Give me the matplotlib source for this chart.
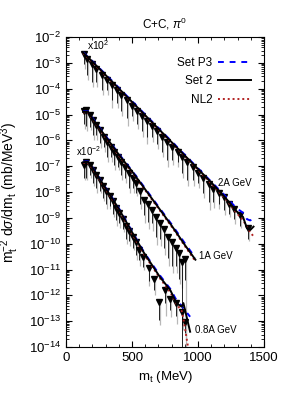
" C+C -> pi0 transverse mass spectra at 0.8, 1 and 2A GeV "
import numpy as np
import matplotlib
matplotlib.use("Agg")
import matplotlib.pyplot as plt
from matplotlib.ticker import LogLocator, MultipleLocator, NullFormatter

plt.rcParams.update({"font.family": "Liberation Sans", "font.size": 8,
                     "mathtext.fontset": "custom",
                     "mathtext.rm": "Liberation Sans",
                     "mathtext.it": "Liberation Sans:italic"})

# ---- data (log10 of m_t^-2 dsigma/dm_t, already scaled) ----
# 2A GeV (x10^2)
mt_2 = [135, 160, 195, 230, 270, 310, 345, 385, 420, 460, 500, 535, 575, 610,
        650, 690, 730, 765, 805, 845, 880, 920, 960, 1000, 1040, 1080, 1115,
        1155, 1195, 1235, 1270, 1320, 1380]
ly_2 = [-2.65, -2.85, -3.05, -3.25, -3.45, -3.65, -3.85, -4.05, -4.25, -4.45,
        -4.65, -4.85, -5.05, -5.25, -5.45, -5.65, -5.85, -6.05, -6.25, -6.45,
        -6.65, -6.85, -7.05, -7.25, -7.45, -7.7, -7.9, -8.05, -8.2, -8.45,
        -8.65, -8.9, -9.4]
lo_2 = [0.4, 0.6, 0.7, 0.5, 0.6, 0.4, 0.6, 0.5, 0.6, 0.7, 0.4, 0.5, 0.6, 0.6,
        0.4, 0.5, 0.6, 0.7, 0.5, 0.4, 0.6, 0.7, 0.5, 0.4, 0.6, 0.7, 0.5, 0.4,
        0.5, 0.4, 0.4, 0.4, 0.4]
gl_2 = [0.6, 0.8, 0.9, 0.7, 0.8, 0.6, 0.9, 0.7, 0.8, 1.0, 0.6, 0.7, 0.8, 0.9,
        0.6, 0.7, 0.8, 1.0, 0.7, 0.6, 0.8, 0.9, 0.7, 0.6, 0.8, 1.0, 0.7, 0.6,
        0.7, 0.5, 0.6, 0.5, 0.5]

# 1A GeV
mt_1 = [135, 155, 180, 205, 230, 255, 285, 310, 340, 365, 395, 420, 450, 475,
        505, 530, 560, 590, 620, 650, 680, 710, 740, 770, 800, 830, 855, 875,
        905]
ly_1 = [-4.85, -4.83, -5.0, -5.2, -5.4, -5.6, -5.85, -6.05, -6.25, -6.45,
        -6.65, -6.85, -7.05, -7.25, -7.45, -7.65, -7.95, -8.3, -8.45, -8.7,
        -8.95, -9.2, -9.45, -9.75, -9.95, -10.15, -10.35, -10.7, -10.6]
lo_1 = [0.5, 0.6, 0.5, 0.6, 0.4, 0.5, 0.4, 0.6, 0.4, 0.5, 0.4, 0.5, 0.4, 0.6,
        0.4, 0.4, 0.5, 0.6, 0.7, 0.5, 0.8, 0.6, 0.7, 0.8, 0.9, 0.7, 1.0, 6.0,
        0.8]
gl_1 = [0.7, 0.8, 0.6, 0.8, 0.6, 0.7, 0.6, 0.8, 0.6, 0.7, 0.5, 0.7, 0.6, 0.8,
        0.6, 0.5, 0.7, 0.9, 1.0, 0.8, 1.1, 0.9, 1.0, 1.1, 1.2, 1.0, 1.2, 1.0,
        6.0]

# 0.8A GeV (x10^-2)
mt_08 = [135, 155, 180, 205, 230, 255, 280, 305, 330, 355, 380, 405, 430, 455,
         480, 505, 530, 555, 585, 625, 670, 707, 750, 790, 830, 876, 905]
ly_08 = [-6.95, -6.85, -6.95, -7.15, -7.35, -7.55, -7.75, -7.95, -8.15, -8.35,
         -8.6, -8.8, -9.05, -9.3, -9.5, -9.75, -9.95, -10.25, -10.5, -10.95,
         -11.38, -12.25, -11.8, -12.15, -12.3, -12.66, -13.05]
lo_08 = [0.5, 0.6, 0.4, 0.5, 0.5, 0.4, 0.5, 0.5, 0.4, 0.5, 0.5, 0.4, 0.4, 0.5,
         0.4, 0.4, 0.5, 0.4, 0.4, 0.5, 0.4, 0.7, 0.5, 0.4, 0.5, 0.5, 0.4]
gl_08 = [0.6, 0.7, 0.5, 0.6, 0.7, 0.5, 0.6, 0.7, 0.5, 0.6, 0.7, 0.6, 0.5, 0.7,
         0.6, 0.5, 0.7, 0.6, 0.5, 0.7, 0.6, 0.9, 1.0, 0.7, 0.8, 0.7, 0.6]

# model curves: Set P3, Set 2, NL2
c2_mt = [130, 200, 300, 400, 500, 600, 700, 800, 900, 1000, 1100, 1200, 1250,
         1290, 1340, 1370, 1395, 1420]
c2_p3 = [-2.58, -2.93, -3.44, -3.96, -4.48, -5.0, -5.52, -6.04, -6.56, -7.08,
         -7.6, -8.12, -8.4, -8.62, -8.8, -9.05, -9.1, -9.02]
c2_s2 = [-2.6, -2.95, -3.47, -3.99, -4.51, -5.03, -5.55, -6.07, -6.59, -7.11,
         -7.63, -8.18, -8.48, -8.74, -8.96, -9.4, -9.47, -9.34]
c2_nl = [-2.62, -2.97, -3.49, -4.01, -4.53, -5.05, -5.57, -6.09, -6.61, -7.14,
         -7.67, -8.22, -8.52, -8.8, -9.08, -9.35, -9.55, -9.72]

c1_mt = [130, 165, 200, 300, 400, 500, 600, 700, 800, 900, 980]
c1_p3 = [-4.88, -4.86, -5.12, -5.82, -6.52, -7.17, -7.86, -8.56, -9.25, -9.98,
         -10.55]
c1_s2 = [-4.9, -4.88, -5.15, -5.85, -6.55, -7.2, -7.9, -8.6, -9.3, -10.05,
         -10.62]
c1_nl = [-4.92, -4.9, -5.17, -5.88, -6.58, -7.23, -7.93, -8.64, -9.34,
         -10.09, -10.68]

c08_mt = [130, 165, 200, 300, 400, 500, 590, 710, 790, 838, 876, 889, 940]
c08_p3 = [-6.83, -6.8, -7.03, -7.83, -8.62, -9.52, -10.32, -11.22, -11.75,
          -12.2, -12.4, -12.5, -12.83]
c08_s2 = [-6.85, -6.82, -7.05, -7.85, -8.65, -9.55, -10.35, -11.28, -11.8,
          -12.31, -12.44, -12.3, -13.41]
c08_nl = [-6.87, -6.85, -7.08, -7.88, -8.68, -9.6, -10.4, -11.33, -11.88,
          -12.35, -12.6, -12.9, -14.5]


def data(ax, mt, ly, lo, gl):
    " black markers with black and grey error bars "
    mt = np.array(mt, float)
    ly = np.array(ly)
    y = 10.0**ly
    ax.vlines(mt + 7, 10.0**(ly - np.array(gl)), y, color="#b8b8b8", lw=0.9,
              zorder=2)
    ax.errorbar(mt, y, yerr=[y - 10.0**(ly - np.array(lo)),
                             y * (10**0.1 - 1)],
                fmt="v", color="k", ms=5, elinewidth=0.6, capsize=0,
                zorder=4)


def curves(ax, mt, p3, s2, nl, lab=False):
    " the three model curves "
    ax.plot(mt, 10.0**np.array(p3), color="#0000ff", ls=(0, (3, 3)), lw=1.4,
            zorder=5, label="Set P3" if lab else None)
    ax.plot(mt, 10.0**np.array(s2), color="k", lw=1.4, zorder=6,
            label="Set 2" if lab else None)
    ax.plot(mt, 10.0**np.array(nl), color="#b22222", ls=(0, (1, 1.5)),
            lw=1.4, zorder=5, label="NL2" if lab else None)


fig = plt.figure(figsize=(2.88, 4.03), dpi=100)
ax = fig.add_axes([0.229, 0.139, 0.688, 0.769])

data(ax, mt_2, ly_2, lo_2, gl_2)
data(ax, mt_1, ly_1, lo_1, gl_1)
data(ax, mt_08, ly_08, lo_08, gl_08)
curves(ax, c2_mt, c2_p3, c2_s2, c2_nl, lab=True)
curves(ax, c1_mt, c1_p3, c1_s2, c1_nl)
curves(ax, c08_mt, c08_p3, c08_s2, c08_nl)

ax.set_yscale("log")
ax.set_xlim(0, 1500)
ax.set_ylim(1e-14, 1e-2)
ax.yaxis.set_major_locator(LogLocator(base=10, numticks=20))
ax.yaxis.set_minor_locator(LogLocator(base=10, subs=np.arange(2, 10),
                                      numticks=20))
ax.yaxis.set_minor_formatter(NullFormatter())
ax.xaxis.set_major_locator(MultipleLocator(500))
ax.xaxis.set_minor_locator(MultipleLocator(100))
ax.tick_params(which="both", direction="in", top=True, right=True,
               labelsize=9.5)
ax.tick_params(which="major", length=4)
ax.tick_params(which="minor", length=2)

ax.text(160, 10**-2.5, r"x10$^2$", fontsize=7.5)
ax.text(75, 10**-6.6, r"x10$^{-2}$", fontsize=7)
ax.text(1150, 10**-7.75, "2A GeV", fontsize=7)
ax.text(1010, 10**-10.6, "1A GeV", fontsize=7)
ax.text(980, 10**-13.45, "0.8A GeV", fontsize=7)

ax.legend(loc="upper right", bbox_to_anchor=(0.99, 0.97), frameon=False,
          markerfirst=False, handlelength=2.8, handletextpad=0.5,
          fontsize=8.5, labelspacing=0.55)

ax.set_title(r"C+C, $\pi^0$", fontsize=8.5, pad=6)
ax.set_xlabel(r"m$_\mathregular{t}$ (MeV)", fontsize=9.5)
ax.set_ylabel(r"m$_\mathregular{t}^{-2}$ d$\sigma$/dm$_\mathregular{t}$ (mb/MeV$^3$)",
              fontsize=10)
ax.yaxis.set_label_coords(-0.225, 0.5)

fig.savefig("out.png", dpi=100)
